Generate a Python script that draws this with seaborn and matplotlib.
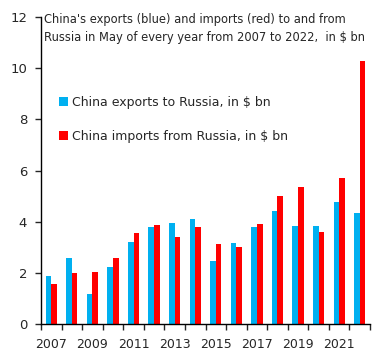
import numpy as np
import pandas as pd
import matplotlib
matplotlib.use("Agg")
import matplotlib.pyplot as plt
import seaborn as sns

years = [str(y) for y in range(2007, 2023)]
exports = [1.88, 2.58, 1.18, 2.23, 3.20, 3.78, 3.94, 4.09,
           2.46, 3.16, 3.78, 4.40, 3.82, 3.82, 4.75, 4.32]
imports = [1.57, 1.99, 2.03, 2.58, 3.55, 3.86, 3.39, 3.78,
           3.12, 3.00, 3.90, 5.02, 5.37, 3.59, 5.71, 10.28]
series = ["China exports to Russia, in $ bn", "China imports from Russia, in $ bn"]
colors = ["#00B0F0", "#FF0000"]

df = pd.DataFrame({
    "year": years * 2,
    "value": exports + imports,
    "series": [series[0]] * len(years) + [series[1]] * len(years),
})

sns.set_style("white")
plt.rcParams['font.family'] = ['DejaVu Sans']

fig = plt.figure(figsize=(3.84, 3.6), dpi=100)
ax = fig.add_axes([41 / 384, 36 / 360, 329 / 384, 307 / 360])

sns.barplot(data=df, x="year", y="value", hue="series", palette=colors,
            width=0.55, saturation=1, linewidth=0, ax=ax, errorbar=None)

ax.set_xlim(-0.5, len(years) - 0.5)
ax.set_ylim(0, 12)
ax.set_yticks(range(0, 13, 2))
ax.set_xticks(range(0, len(years), 2))
ax.set_xticklabels(years[::2])
ax.set_xticks(np.arange(-0.5, len(years), 1), minor=True)
ax.tick_params(axis="x", which="major", length=0, pad=10, labelsize=9)
ax.tick_params(axis="x", which="minor", length=4, width=1, direction="out", bottom=True)
ax.tick_params(axis="y", length=4, width=1, direction="out", left=True, labelsize=9.5, pad=6)
ax.set_xlabel("")
ax.set_ylabel("")
for s in ["top", "right"]:
    ax.spines[s].set_visible(False)
for s in ["left", "bottom"]:
    ax.spines[s].set_color("black")
    ax.spines[s].set_linewidth(1)

leg = ax.legend(loc="upper left", bbox_to_anchor=(0.04, 0.76), frameon=False,
                fontsize=9, handlelength=0.7, handleheight=0.7, handletextpad=0.3,
                labelspacing=1.7, borderaxespad=0)

fig.text(44 / 384, 1 - 13 / 360,
         "China's exports (blue) and imports (red) to and from\nRussia in May of every year from 2007 to 2022,  in $ bn",
         fontsize=8.3, va="top", ha="left", linespacing=1.5)

fig.savefig("out.png", dpi=100)
